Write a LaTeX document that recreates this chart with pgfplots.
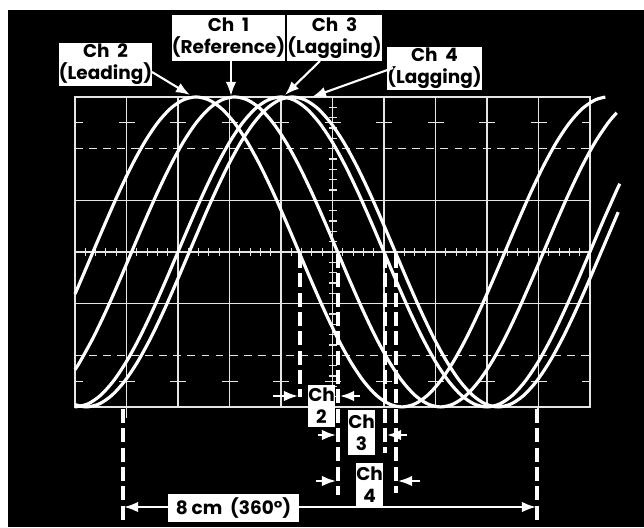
\documentclass[border=0pt]{standalone}
\usepackage{pgfplots}
\pgfplotsset{compat=1.18}
\usepackage{fontspec}
\setmainfont{Poppins}
\usetikzlibrary{arrows.meta}
\begin{document}
\begin{tikzpicture}
% background and graticule, in pixel units of the reference (1px = 0.02cm)
\begin{scope}[x=0.02cm,y=-0.02cm,yshift=10.54cm]
  \fill[white] (0,0) rectangle (644,527);
  \fill[black] (8,10) rectangle (644,527);
  \tikzset{grid/.style={draw=white!90!black,line width=0.65pt}}
  \begin{scope}
    \clip (75,97) rectangle (590,407);
    \foreach \i in {0,...,10} \draw[grid] ({75+51.5*\i},97) -- ({75+51.5*\i},407);
    \foreach \j in {0,2,3,4,6} \draw[grid] (75,{97+51.667*\j}) -- (590,{97+51.667*\j});
    \foreach \j in {1,5} \draw[grid,dash pattern=on 4.5pt off 3.5pt] (75,{97+51.667*\j}) -- (590,{97+51.667*\j});
    \foreach \k in {1,...,49} \draw[grid] ({75+10.3*\k},248) -- ({75+10.3*\k},256);
    \foreach \k in {1,...,29} \draw[grid] (328.5,{97+10.333*\k}) -- (336.5,{97+10.333*\k});
    \foreach \i in {0,...,10} {
      \draw[grid] ({75+51.5*\i-8},122.8) -- ({75+51.5*\i+8},122.8);
      \draw[grid] ({75+51.5*\i-8},381.2) -- ({75+51.5*\i+8},381.2);
    }
  \end{scope}
  \draw[grid] (75,97) rectangle (590,407);
  \draw[grid] (126.5,407) -- (126.5,418);
  \draw[grid] (538,407) -- (538,418);
\end{scope}

\begin{axis}[at={(0,0)}, anchor=south west, scale only axis,
  width=12.88cm, height=10.54cm,
  xmin=-1.45631, xmax=11.04854, ymin=-5.32224, ymax=4.87710,
  hide axis, clip=true]
% Ch 2 (leading)
\addplot[white, line width=1.8pt, smooth] coordinates {
(0,-0.814) (0.10,-0.585) (0.35,0) (0.60,0.585) (0.85,1.148) (1.10,1.667)
(1.35,2.121) (1.60,2.494) (1.85,2.772) (2.10,2.942) (2.35,3) (2.60,2.942)
(2.85,2.772) (3.10,2.494) (3.35,2.121) (3.60,1.667) (3.85,1.148) (4.10,0.585)
(4.35,0) (4.60,-0.585) (4.85,-1.148) (5.10,-1.667) (5.35,-2.121) (5.60,-2.494)
(5.85,-2.772) (6.10,-2.942) (6.35,-3) (6.60,-2.942) (6.85,-2.772) (7.10,-2.494)
(7.35,-2.121) (7.60,-1.667) (7.85,-1.148) (8.10,-0.585) (8.35,0) (8.60,0.585)
(8.85,1.148) (9.10,1.667) (9.35,2.121) (9.60,2.494) (9.85,2.772) (10.10,2.942)
(10.30,2.998)};
% Ch 1 (reference)
\addplot[white, line width=1.8pt, smooth] coordinates {
(0,-2.281) (0.10,-2.121) (0.35,-1.667) (0.60,-1.148) (0.85,-0.585) (1.10,0)
(1.35,0.585) (1.60,1.148) (1.85,1.667) (2.10,2.121) (2.35,2.494) (2.60,2.772)
(2.85,2.942) (3.10,3) (3.35,2.942) (3.60,2.772) (3.85,2.494) (4.10,2.121)
(4.35,1.667) (4.60,1.148) (4.85,0.585) (5.10,0) (5.35,-0.585) (5.60,-1.148)
(5.85,-1.667) (6.10,-2.121) (6.35,-2.494) (6.60,-2.772) (6.85,-2.942) (7.10,-3)
(7.35,-2.942) (7.60,-2.772) (7.85,-2.494) (8.10,-2.121) (8.35,-1.667) (8.60,-1.148)
(8.85,-0.585) (9.10,0) (9.35,0.585) (9.60,1.148) (9.85,1.667) (10.10,2.121)
(10.35,2.494) (10.52,2.694)};
% Ch 3 (lagging)
\addplot[white, line width=1.8pt, smooth] coordinates {
(0,-3) (0.25,-2.942) (0.5,-2.772) (0.75,-2.494) (1.0,-2.121) (1.25,-1.667)
(1.5,-1.148) (1.75,-0.585) (2.0,0) (2.25,0.585) (2.5,1.148) (2.75,1.667)
(3.0,2.121) (3.25,2.494) (3.5,2.772) (3.75,2.942) (4.0,3) (4.25,2.942)
(4.5,2.772) (4.75,2.494) (5.0,2.121) (5.25,1.667) (5.5,1.148) (5.75,0.585)
(6.0,0) (6.25,-0.585) (6.5,-1.148) (6.75,-1.667) (7.0,-2.121) (7.25,-2.494)
(7.5,-2.772) (7.75,-2.942) (8.0,-3) (8.25,-2.942) (8.5,-2.772) (8.75,-2.494)
(9.0,-2.121) (9.25,-1.667) (9.5,-1.148) (9.75,-0.585) (10.0,0) (10.25,0.585)
(10.5,1.148) (10.58,1.32)};
% Ch 4 (lagging)
\addplot[white, line width=1.8pt, smooth] coordinates {
(0,-2.955) (0.22,-3) (0.47,-2.942) (0.72,-2.772) (0.97,-2.494) (1.22,-2.121)
(1.47,-1.667) (1.72,-1.148) (1.97,-0.585) (2.22,0) (2.47,0.585) (2.72,1.148)
(2.97,1.667) (3.22,2.121) (3.47,2.494) (3.72,2.772) (3.97,2.942) (4.22,3)
(4.47,2.942) (4.72,2.772) (4.97,2.494) (5.22,2.121) (5.47,1.667) (5.72,1.148)
(5.97,0.585) (6.22,0) (6.47,-0.585) (6.72,-1.148) (6.97,-1.667) (7.22,-2.121)
(7.47,-2.494) (7.72,-2.772) (7.97,-2.942) (8.22,-3) (8.47,-2.942) (8.72,-2.772)
(8.97,-2.494) (9.22,-2.121) (9.47,-1.667) (9.72,-1.148) (9.97,-0.585) (10.22,0)
(10.47,0.585) (10.55,0.77)};
\end{axis}

% annotations
\begin{scope}[x=0.02cm,y=-0.02cm,yshift=10.54cm,
  lab/.style={fill=white,text=black,inner sep=0pt,align=center,
    font=\fontsize{10.5}{12.5}\selectfont\bfseries},
  arr/.style={white,line width=1.2pt,-{Latex[length=8pt,width=6pt]}},
  dl/.style={white,line width=2.2pt,dash pattern=on 8pt off 3pt}]
  % top labels
  \node[lab,minimum width=1.78cm,minimum height=0.86cm] at (105.5,64.5) {Ch~~2\\(Leading)};
  \node[lab,minimum width=2.06cm,minimum height=0.92cm] at (228.5,38) {Ch~~1\\(Reference)};
  \node[lab,minimum width=1.74cm,minimum height=0.92cm] at (334.5,38) {Ch~~3\\(Lagging)};
  \node[lab,minimum width=1.70cm,minimum height=0.86cm] at (434.5,68.5) {Ch~~4\\(Lagging)};
  \draw[arr] (152,72) -- (190,95);
  \draw[arr] (231,61) -- (231,96);
  \draw[arr] (320,61) -- (285,95);
  \draw[arr] (393,68) -- (312,97);
  % dashed markers
  \draw[dl] (300,254) -- (300,397);
  \draw[dl] (338,254) -- (338,495);
  \draw[dl] (385,254) -- (385,453);
  \draw[dl] (396,254) -- (396,493);
  \draw[dl] (123,409) -- (123,522);
  \draw[dl] (537,409) -- (537,522);
  % Ch 2
  \draw[arr] (273,396) -- (298,396);
  \draw[arr] (360,396) -- (340,396);
  \node[lab,minimum width=0.50cm,minimum height=0.84cm] at (321.5,406) {Ch\\2};
  % Ch 3
  \draw[arr] (318,435) -- (336,435);
  \draw[arr] (407,435) -- (387,435);
  \node[lab,minimum width=0.54cm,minimum height=0.90cm] at (361.5,432.5) {Ch\\3};
  % Ch 4
  \draw[arr] (316,481) -- (336,481);
  \draw[arr] (420,481) -- (398,481);
  % 8 cm
  \draw[white,line width=1.2pt,{Latex[length=8pt,width=6pt]}-{Latex[length=8pt,width=6pt]}] (124,507) -- (536,507);
  \node[lab,minimum width=0.54cm,minimum height=0.88cm] at (369.5,485) {Ch\\4};
  \node[lab,minimum width=2.62cm,minimum height=0.56cm] at (233.5,508) {8 cm~~(360°)};
\end{scope}
\end{tikzpicture}
\end{document}
